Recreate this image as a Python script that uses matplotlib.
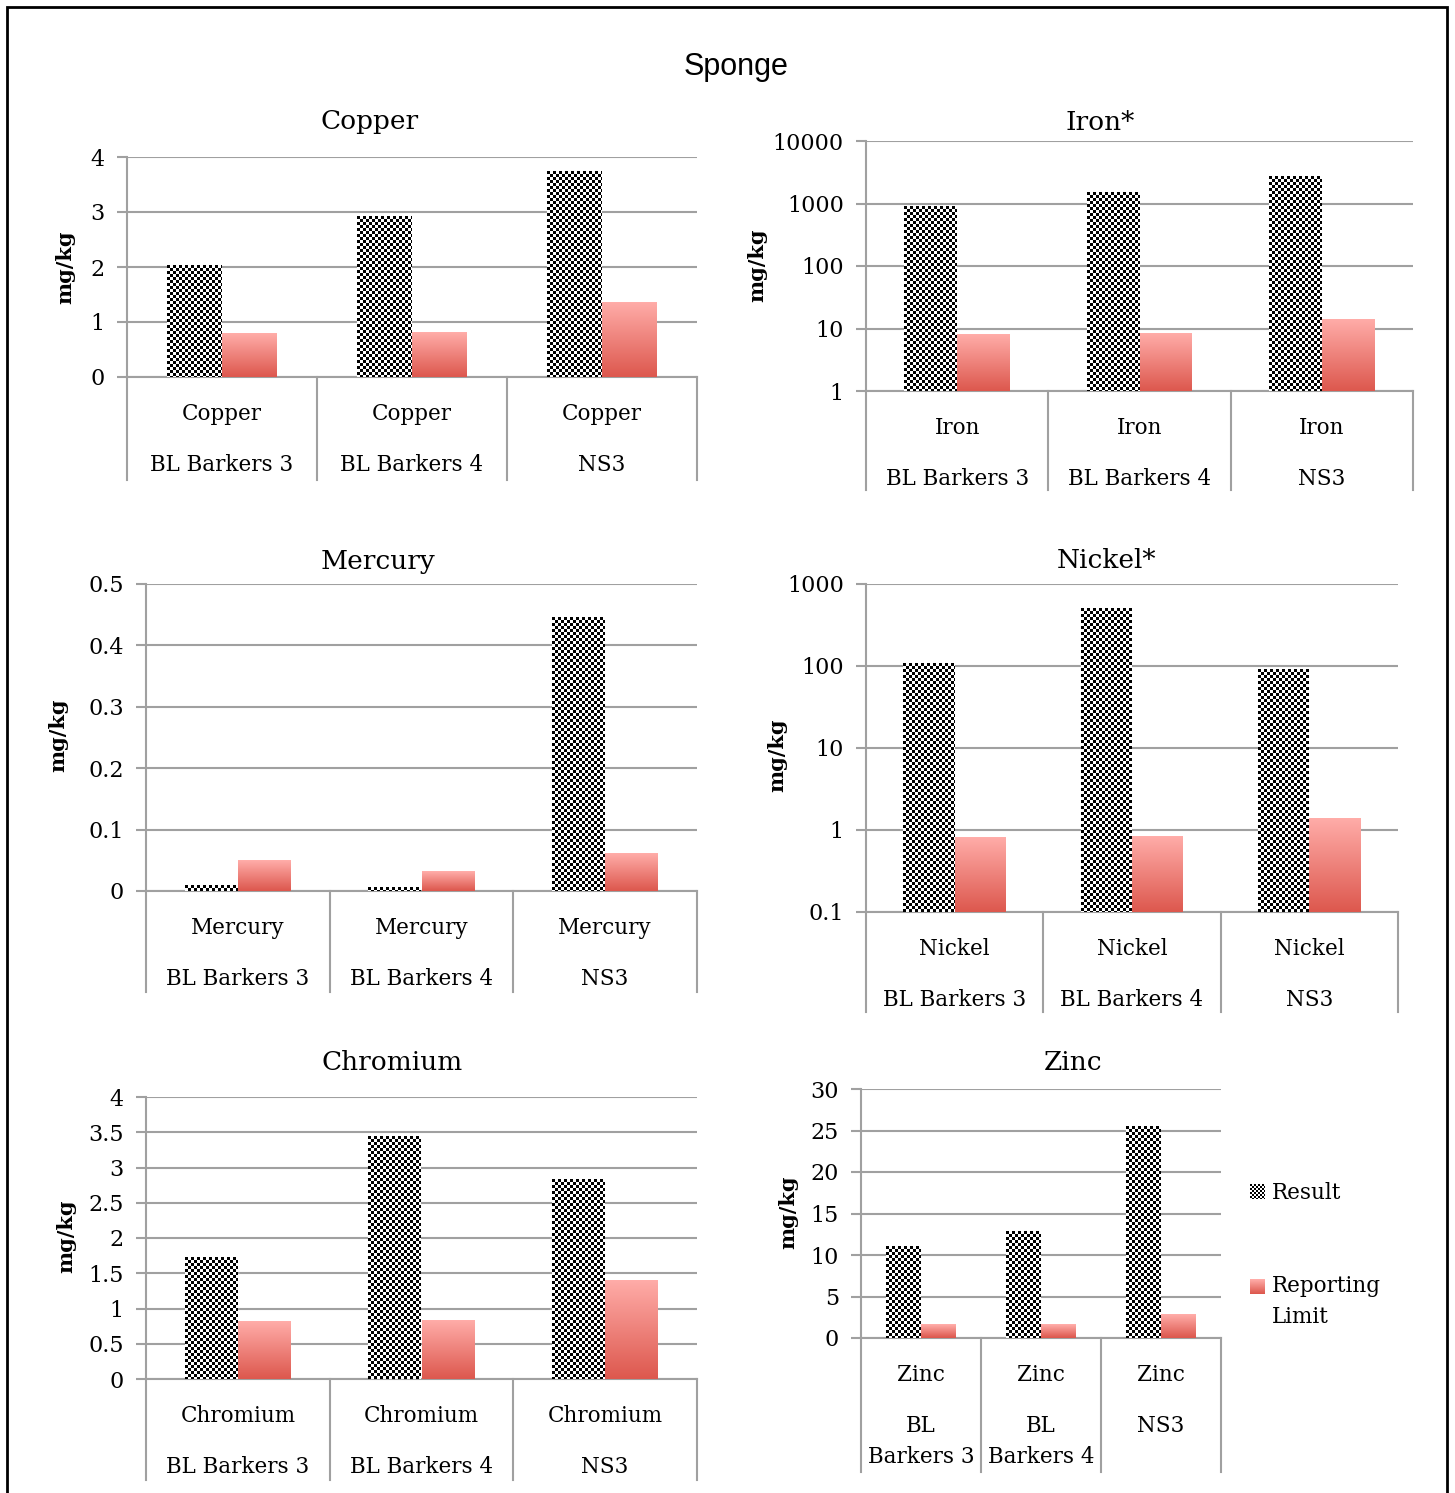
import numpy as np
import matplotlib.pyplot as plt
from matplotlib.patches import Rectangle
from matplotlib.ticker import FixedLocator, FuncFormatter, NullLocator
from matplotlib.legend_handler import HandlerPatch, update_from_first_child
import matplotlib.transforms as mtransforms

W, H = 1455, 1493
plt.rcParams['font.family'] = ['DejaVu Serif']

# --- data ---
samples = ["BL Barkers 3", "BL Barkers 4", "NS3"]
zinc_samples = ["BL\nBarkers 3", "BL\nBarkers 4", "NS3"]

copper_result = [2.03, 2.92, 3.75]
copper_rl = [0.80, 0.82, 1.37]
iron_result = [910, 1520, 2750]
iron_rl = [8.2, 8.5, 14.2]
mercury_result = [0.010, 0.0065, 0.446]
mercury_rl = [0.050, 0.033, 0.062]
nickel_result = [108, 510, 92]
nickel_rl = [0.82, 0.84, 1.40]
chromium_result = [1.73, 3.45, 2.84]
chromium_rl = [0.82, 0.84, 1.40]
zinc_result = [11.1, 12.9, 25.5]
zinc_rl = [1.7, 1.7, 2.9]

copper_ticks = [0, 1, 2, 3, 4]
iron_ticks = [1, 10, 100, 1000, 10000]
mercury_ticks = [0, 0.1, 0.2, 0.3, 0.4, 0.5]
nickel_ticks = [0.1, 1, 10, 100, 1000]
chromium_ticks = [0, 0.5, 1, 1.5, 2, 2.5, 3, 3.5, 4]
zinc_ticks = [0, 5, 10, 15, 20, 25, 30]

GRID = '#a0a0a0'
RL_TOP = np.array([255, 172, 168]) / 255
RL_BOT = np.array([221, 88, 78]) / 255

fig = plt.figure(figsize=(W / 100, H / 100), dpi=100)

# panel layout in pixels: (x0, y0, x1, y1), separator length, ylabel pos, title pos
panels = [
    dict(title="Copper", el="Copper", res=copper_result, rl=copper_rl, ticks=copper_ticks,
         log=False, box=(127, 157, 697, 377), sep=103, ylab=(65, 267), tpos=(370, 122), labs=samples),
    dict(title="Iron*", el="Iron", res=iron_result, rl=iron_rl, ticks=iron_ticks,
         log=True, box=(866, 141, 1413, 391), sep=99, ylab=(757, 265), tpos=(1100, 122), labs=samples),
    dict(title="Mercury", el="Mercury", res=mercury_result, rl=mercury_rl, ticks=mercury_ticks,
         log=False, box=(146, 584, 697, 891), sep=101, ylab=(58, 735), tpos=(378, 561), labs=samples),
    dict(title="Nickel*", el="Nickel", res=nickel_result, rl=nickel_rl, ticks=nickel_ticks,
         log=True, box=(866, 584, 1398, 912), sep=100, ylab=(777, 755), tpos=(1107, 561), labs=samples),
    dict(title="Chromium", el="Chromium", res=chromium_result, rl=chromium_rl, ticks=chromium_ticks,
         log=False, box=(146, 1097, 697, 1379), sep=101, ylab=(66, 1236), tpos=(392, 1062), labs=samples),
    dict(title="Zinc", el="Zinc", res=zinc_result, rl=zinc_rl, ticks=zinc_ticks,
         log=False, box=(861, 1089, 1221, 1338), sep=134, ylab=(788, 1212), tpos=(1073, 1062), labs=zinc_samples),
]

res_patches, rl_patches = [], []
bw = 0.29
x = np.arange(3)
zinc_bars = None

for p in panels:
    x0, y0, x1, y1 = p['box']
    ax = fig.add_axes([x0 / W, 1 - y1 / H, (x1 - x0) / W, (y1 - y0) / H])
    lo, hi = p['ticks'][0], p['ticks'][-1]
    if p['log']:
        ax.set_yscale('log')
    base = lo if p['log'] else 0
    b1 = ax.bar(x - bw / 2, np.array(p['res']) - base, bw, bottom=base, color='black', zorder=2)
    b2 = ax.bar(x + bw / 2, np.array(p['rl']) - base, bw, bottom=base, color='#ec7c74', zorder=2)
    res_patches += list(b1)
    rl_patches += list(b2)
    if p['el'] == "Zinc":
        zinc_bars = (b1, b2)
    ax.set_xlim(-0.5, 2.5)
    ax.set_ylim(lo, hi)
    ax.yaxis.set_major_locator(FixedLocator(p['ticks']))
    ax.yaxis.set_minor_locator(NullLocator())
    ax.yaxis.set_major_formatter(FuncFormatter(lambda v, _: f"{v:g}"))
    ax.set_xticks([])
    ax.yaxis.grid(True, color=GRID, lw=1.5)
    ax.set_axisbelow(True)
    for s in ['top', 'right']:
        ax.spines[s].set_visible(False)
    for s in ['left', 'bottom']:
        ax.spines[s].set_color(GRID)
        ax.spines[s].set_linewidth(1.5)
    ax.tick_params(axis='y', direction='out', length=7, width=1.5, color=GRID,
                   labelsize=16, pad=9, labelcolor='black')

    # category separators below the plot area
    trans = mtransforms.blended_transform_factory(ax.transData, ax.transAxes)
    frac = p['sep'] / (y1 - y0)
    for xb in [-0.5, 0.5, 1.5, 2.5]:
        ax.plot([xb, xb], [0, -frac], transform=trans, color=GRID, lw=1.5, clip_on=False)

    # two-level category labels
    for i, lab in enumerate(p['labs']):
        ax.annotate(p['el'], xy=(i, 0), xycoords=trans, xytext=(0, -37),
                    textcoords='offset pixels', ha='center', va='center', fontsize=15.5)
        ax.annotate(lab, xy=(i, 0), xycoords=trans, xytext=(0, -77),
                    textcoords='offset pixels', ha='center', va='top', fontsize=15.5,
                    linespacing=1.55)

    fig.text(p['ylab'][0] / W, 1 - p['ylab'][1] / H, "mg/kg", rotation=90,
             fontweight='bold', fontsize=15, ha='center', va='center')
    fig.text(p['tpos'][0] / W, 1 - p['tpos'][1] / H, p['title'], fontsize=19,
             ha='center', va='center')

fig.text(736 / W, 1 - 67 / H, "Sponge", fontsize=22, ha='center', va='center',
         family=['Liberation Sans'])


# the two-line legend entry keeps its swatch next to the first line
def upper_patch(legend, orig_handle, xdescent, ydescent, width, height, fontsize):
    return Rectangle((-xdescent, -ydescent + 11.5), width, height)


leg = fig.legend([zinc_bars[0], zinc_bars[1]], ["Result", "Reporting\nLimit"],
                 loc='upper left', bbox_to_anchor=(1250 / W, 1 - 1182 / H),
                 frameon=False, fontsize=15.5, handlelength=0.7, handleheight=0.7,
                 handletextpad=0.3, labelspacing=3.3, borderaxespad=0, borderpad=0,
                 handler_map={zinc_bars[1]: HandlerPatch(patch_func=upper_patch,
                                                         update_func=update_from_first_child)})
leg.get_texts()[1].set_linespacing(1.5)

# outer frame
fig.patches.append(Rectangle((7 / W, -0.02), 1440 / W, 1 - 7 / H + 0.02, transform=fig.transFigure,
                             fill=False, edgecolor='black', lw=2))

# paint checkered and gradient fills onto the bars
fig.canvas.draw()


def checker(w, h, cell=3):
    yy, xx = np.mgrid[0:h, 0:w]
    c = ((yy // cell + xx // cell) % 2).astype(float)
    return np.dstack([c, c, c])


def gradient(w, h):
    t = np.linspace(0, 1, h)[:, None, None]
    g = RL_TOP * (1 - t) + RL_BOT * t
    return np.repeat(g, w, axis=1)


def paint(patch, kind, cell=3, z=5):
    bb = patch.get_window_extent()
    px0, py0 = int(round(bb.x0)), int(round(bb.y0))
    w, h = int(round(bb.x1)) - px0, int(round(bb.y1)) - py0
    if w <= 0 or h <= 0:
        return
    img = checker(w, h, cell) if kind == 'res' else gradient(w, h)
    fig.figimage(img, xo=px0, yo=py0, zorder=z, origin='upper')


for pt in res_patches:
    paint(pt, 'res')
for pt in rl_patches:
    paint(pt, 'rl')
hs = leg.legend_handles
paint(hs[0], 'res', cell=2, z=10)
paint(hs[1], 'rl', z=10)

fig.savefig("out.png", dpi=100)
